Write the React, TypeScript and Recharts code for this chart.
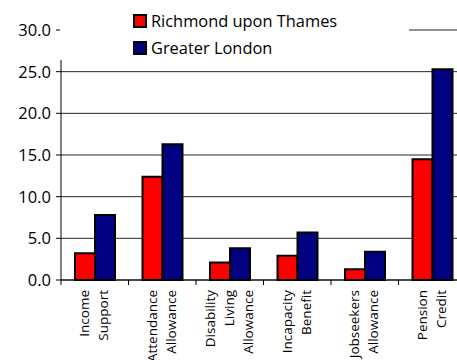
import { BarChart, Bar, XAxis, YAxis, CartesianGrid, Legend } from "recharts";

const categories = [
  "Income Support",
  "Attendance Allowance",
  "Disability Living Allowance",
  "Incapacity Benefit",
  "Jobseekers Allowance",
  "Pension Credit",
];
const richmond = [3.2, 12.4, 2.1, 2.9, 1.3, 14.5];
const london = [7.8, 16.3, 3.8, 5.7, 3.4, 25.3];
const yTicks = [0, 5, 10, 15, 20, 25, 30];

const data = categories.map((name, i) => ({
  name,
  richmond: richmond[i],
  london: london[i],
}));

const FONT = "'Open Sans', sans-serif";
const HALF_BAND = 405 / 6 / 2;

function CategoryTick(props: any) {
  const { x, y, payload } = props;
  const lines = String(payload.value).split(" ");
  const n = lines.length;
  return (
    <g>
      <line x1={x - HALF_BAND} x2={x - HALF_BAND} y1={y} y2={y + 5} stroke="#000" />
      {lines.map((line, i) => {
        const lx = x + (i - (n - 1) / 2) * 19 + 4;
        return (
          <text
            key={i}
            x={lx}
            y={y + 10}
            transform={`rotate(-90 ${lx} ${y + 10})`}
            textAnchor="end"
            fontSize={13.5}
            fontFamily={FONT}
            fill="#000"
          >
            {line}
          </text>
        );
      })}
    </g>
  );
}

function LegendBox() {
  const items = [
    { label: "Richmond upon Thames", color: "#ff0000" },
    { label: "Greater London", color: "#000080" },
  ];
  return (
    <div style={{ position: "relative", width: 349, height: 60, background: "#fff" }}>
      {items.map((it, i) => (
        <div
          key={it.label}
          style={{
            position: "absolute",
            left: 73,
            top: 9 + i * 27,
            display: "flex",
            alignItems: "center",
            fontFamily: FONT,
            fontSize: 16.4,
            color: "#000",
            whiteSpace: "nowrap",
          }}
        >
          <span
            style={{
              display: "inline-block",
              width: 10,
              height: 10,
              background: it.color,
              border: "2px solid #000",
              marginRight: 4,
            }}
          />
          {it.label}
        </div>
      ))}
    </div>
  );
}

export default function App() {
  return (
    <div
      style={{
        position: "absolute",
        left: 0,
        top: 0,
        width: 457,
        height: 360,
        overflow: "hidden",
        background: "#fff",
      }}
    >
      <BarChart
        width={470}
        height={360}
        data={data}
        margin={{ top: 30, right: 4, bottom: 0, left: 0 }}
        barCategoryGap={14}
        barGap={0}
      >
        <CartesianGrid vertical={false} stroke="#000" strokeOpacity={0.85} />
        <XAxis
          dataKey="name"
          interval={0}
          tickLine={false}
          tickSize={0}
          tickMargin={0}
          stroke="#000"
          tick={<CategoryTick />}
          height={80}
        />
        <YAxis
          width={61}
          domain={[0, 30]}
          ticks={yTicks}
          tickFormatter={(v: number) => v.toFixed(1)}
          tickSize={5}
          tickMargin={5}
          stroke="#000"
          tick={{ fill: "#000", fontSize: 16.5, fontFamily: FONT }}
        />
        <Legend
          layout="horizontal"
          verticalAlign="middle"
          align="center"
          content={<LegendBox />}
          wrapperStyle={{ left: 60, top: 0, width: 348, height: 60, zIndex: 5 }}
        />
        <Bar
          dataKey="richmond"
          name="Richmond upon Thames"
          fill="#ff0000"
          stroke="#000"
          strokeWidth={2}
          isAnimationActive={false}
        />
        <Bar
          dataKey="london"
          name="Greater London"
          fill="#000080"
          stroke="#000"
          strokeWidth={2}
          isAnimationActive={false}
        />
      </BarChart>
    </div>
  );
}
